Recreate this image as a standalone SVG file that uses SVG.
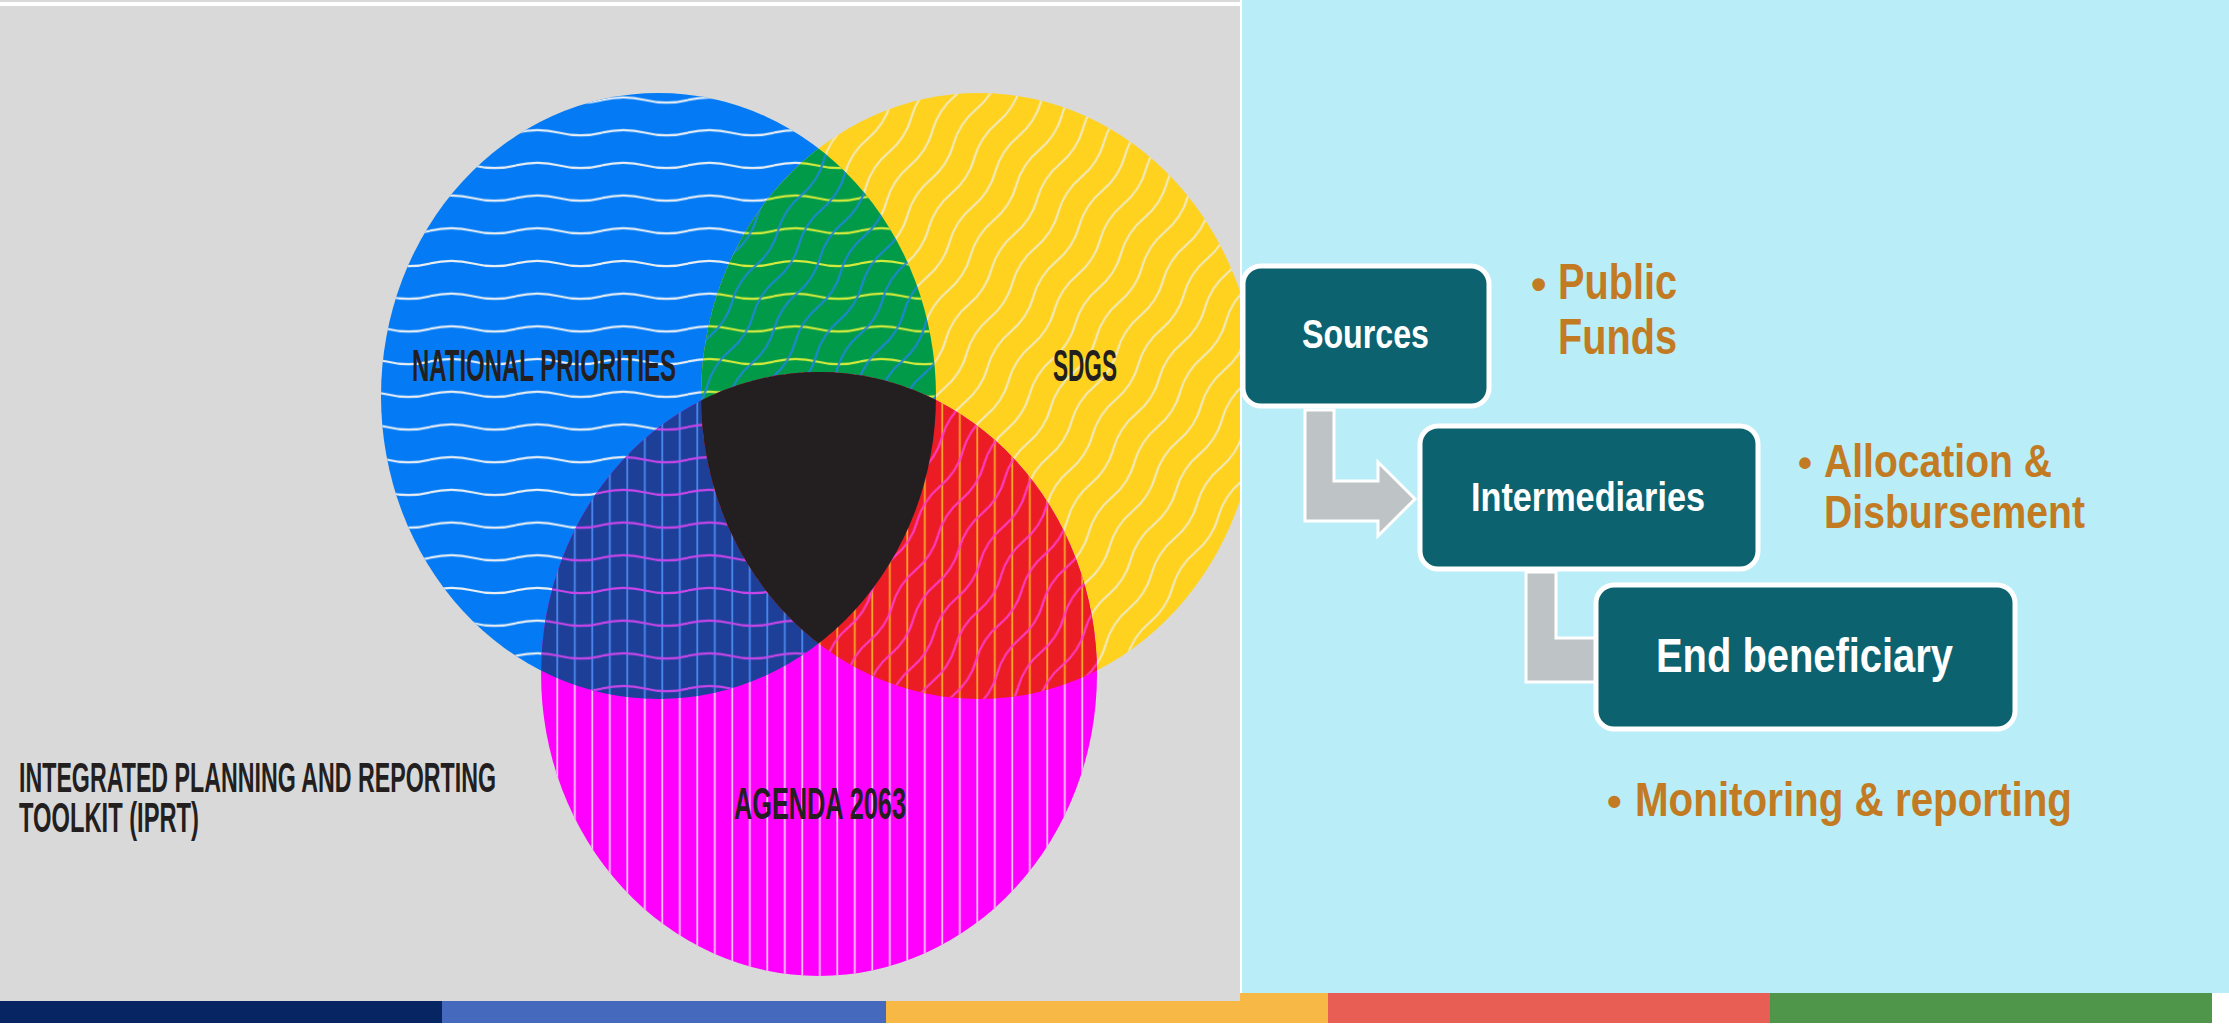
<svg xmlns="http://www.w3.org/2000/svg" width="2229" height="1024" viewBox="0 0 2229 1024">
<style>
.venn-label{font-family:"Liberation Sans Narrow","Liberation Sans",Arial,sans-serif;font-weight:bold;fill:#231f20;}
.box{fill:#0d6270;stroke:#ffffff;stroke-width:5;}
.box-label{font-family:"Liberation Sans Narrow","Liberation Sans",Arial,sans-serif;font-weight:bold;fill:#ffffff;}
.note{font-family:"Liberation Sans Narrow","Liberation Sans",Arial,sans-serif;font-weight:bold;fill:#c27b22;}
.conn{fill:#bec4c5;stroke:#ffffff;stroke-width:3;stroke-linejoin:miter;}
</style>
<defs>
  <ellipse id="eB" cx="658.5" cy="396" rx="277.5" ry="303"/>
  <ellipse id="eY" cx="979" cy="396" rx="278" ry="303"/>
  <ellipse id="eM" cx="819" cy="674" rx="278" ry="302"/>
  <clipPath id="clipPanel"><rect x="0" y="6" width="1240" height="995"/></clipPath>
  <clipPath id="clipB"><use href="#eB"/></clipPath>
  <clipPath id="clipY"><use href="#eY"/></clipPath>
  <clipPath id="clipM"><use href="#eM"/></clipPath>
  <!-- horizontal waves -->
  <pattern id="hwW" patternUnits="userSpaceOnUse" x="0" y="83.65" width="86" height="32.7">
    <path d="M0 16.35 Q21.5 11 43 16.35 T86 16.35" fill="none" stroke="#e8eef4" stroke-width="2.2"/>
  </pattern>
  <pattern id="hwYel" patternUnits="userSpaceOnUse" x="0" y="83.65" width="86" height="32.7">
    <path d="M0 16.35 Q21.5 11 43 16.35 T86 16.35" fill="none" stroke="#d6ea3c" stroke-width="2.2"/>
  </pattern>
  <pattern id="hwPink" patternUnits="userSpaceOnUse" x="0" y="83.65" width="86" height="32.7">
    <path d="M0 16.35 Q21.5 11 43 16.35 T86 16.35" fill="none" stroke="#c845ea" stroke-width="2.2"/>
  </pattern>
  <!-- diagonal waves -->
  <pattern id="dwW" patternUnits="userSpaceOnUse" x="0" y="0" width="84" height="25" patternTransform="rotate(-57 979 396)">
    <path d="M0 12.5 Q21 6 42 12.5 T84 12.5" fill="none" stroke="#f1e9bd" stroke-width="2.2"/>
  </pattern>
  <pattern id="dwBlue" patternUnits="userSpaceOnUse" x="0" y="0" width="84" height="25" patternTransform="rotate(-57 979 396)">
    <path d="M0 12.5 Q21 6 42 12.5 T84 12.5" fill="none" stroke="#1f86d6" stroke-width="2.2"/>
  </pattern>
  <pattern id="dwPink" patternUnits="userSpaceOnUse" x="0" y="0" width="84" height="25" patternTransform="rotate(-57 979 396)">
    <path d="M0 12.5 Q21 6 42 12.5 T84 12.5" fill="none" stroke="#ff3cc8" stroke-width="2.2"/>
  </pattern>
  <!-- vertical lines -->
  <pattern id="vlW" patternUnits="userSpaceOnUse" x="0" y="0" width="17.5" height="10">
    <line x1="14.8" y1="0" x2="14.8" y2="10" stroke="#ffc8ff" stroke-width="1.8"/>
  </pattern>
  <pattern id="vlBlue" patternUnits="userSpaceOnUse" x="0" y="0" width="17.5" height="10">
    <line x1="14.8" y1="0" x2="14.8" y2="10" stroke="#4a88ee" stroke-width="1.8"/>
  </pattern>
  <pattern id="vlOr" patternUnits="userSpaceOnUse" x="0" y="0" width="17.5" height="10">
    <line x1="14.8" y1="0" x2="14.8" y2="10" stroke="#f7a829" stroke-width="1.8"/>
  </pattern>
</defs>

<!-- backgrounds -->
<rect x="0" y="0" width="2229" height="1024" fill="#ffffff"/>
<rect x="0" y="0" width="1240" height="1001" fill="#d9d9d9"/>
<rect x="0" y="2" width="1240" height="4" fill="#ffffff"/>
<rect x="1242" y="0" width="987" height="993" fill="#b9edf7"/>
<g id="bottom-bar">
  <rect x="0" y="1001" width="442" height="22" fill="#062562"/>
  <rect x="442" y="993" width="444" height="30" fill="#4569bd"/>
  <rect x="886" y="993" width="442" height="30" fill="#f8b845"/>
  <rect x="1328" y="993" width="442" height="30" fill="#e85e55"/>
  <rect x="1770" y="993" width="442" height="30" fill="#4f964a"/>
</g>
<rect x="442" y="993" width="798" height="8" fill="#d9d9d9"/>

<!-- Venn diagram -->
<g id="venn" clip-path="url(#clipPanel)">
  <g id="national-priorities">
    <use href="#eB" fill="#047bf5"/>
    <use href="#eB" fill="url(#hwW)"/>
  </g>
  <g id="sdgs">
    <use href="#eY" fill="#fed21f"/>
    <use href="#eY" fill="url(#dwW)"/>
  </g>
  <g id="agenda-2063">
    <use href="#eM" fill="#ff00ff"/>
    <use href="#eM" fill="url(#vlW)"/>
  </g>
  <g id="np-sdgs" clip-path="url(#clipB)">
    <use href="#eY" fill="#009a48"/>
    <use href="#eY" fill="url(#hwYel)"/>
    <use href="#eY" fill="url(#dwBlue)"/>
  </g>
  <g id="np-agenda" clip-path="url(#clipB)">
    <use href="#eM" fill="#1e3f98"/>
    <use href="#eM" fill="url(#vlBlue)"/>
    <use href="#eM" fill="url(#hwPink)"/>
  </g>
  <g id="sdgs-agenda" clip-path="url(#clipY)">
    <use href="#eM" fill="#ec1c24"/>
    <use href="#eM" fill="url(#vlOr)"/>
    <use href="#eM" fill="url(#dwPink)"/>
  </g>
  <g id="all-three" clip-path="url(#clipB)">
    <g clip-path="url(#clipY)">
      <use href="#eM" fill="#231f20"/>
    </g>
  </g>
  <text class="venn-label" x="412" y="381" font-size="44" textLength="264" lengthAdjust="spacingAndGlyphs">NATIONAL PRIORITIES</text>
  <text class="venn-label" x="1053" y="381" font-size="44" textLength="64" lengthAdjust="spacingAndGlyphs">SDGS</text>
  <text class="venn-label" x="734" y="819" font-size="44" textLength="172" lengthAdjust="spacingAndGlyphs">AGENDA 2063</text>
</g>
<g id="title">
  <text class="venn-label" x="19" y="792" font-size="42" textLength="477" lengthAdjust="spacingAndGlyphs">INTEGRATED PLANNING AND REPORTING</text>
  <text class="venn-label" x="19" y="832" font-size="42" textLength="180" lengthAdjust="spacingAndGlyphs">TOOLKIT (IPRT)</text>
</g>

<!-- connectors -->
<g id="connectors">
  <path class="conn" d="M1305 410 L1305 521 L1378 521 L1378 536 L1415 499 L1378 462 L1378 481 L1334 481 L1334 410 Z"/>
  <path class="conn" d="M1526 572 L1526 682 L1596 682 L1596 638 L1556 638 L1556 572 Z"/>
</g>

<!-- nodes -->
<g id="node-sources">
  <rect class="box" x="1243" y="266" width="246" height="140" rx="18"/>
  <text class="box-label" x="1302" y="348" font-size="40" textLength="127" lengthAdjust="spacingAndGlyphs">Sources</text>
</g>
<g id="node-intermediaries">
  <rect class="box" x="1420" y="426" width="338" height="143" rx="18"/>
  <text class="box-label" x="1471" y="511" font-size="41" textLength="234" lengthAdjust="spacingAndGlyphs">Intermediaries</text>
</g>
<g id="node-end-beneficiary">
  <rect class="box" x="1596" y="585" width="419" height="144" rx="18"/>
  <text class="box-label" x="1656" y="672" font-size="48" textLength="297" lengthAdjust="spacingAndGlyphs">End beneficiary</text>
</g>

<!-- notes -->
<g id="note-public-funds">
  <text class="note" font-size="50"><tspan x="1531" y="299" font-size="44">•</tspan><tspan x="1558" y="299" textLength="119" lengthAdjust="spacingAndGlyphs">Public</tspan></text>
  <text class="note" font-size="50" x="1558" y="354" textLength="119" lengthAdjust="spacingAndGlyphs">Funds</text>
</g>
<g id="note-allocation">
  <text class="note" font-size="46"><tspan x="1798" y="477" font-size="40">•</tspan><tspan x="1824" y="477" textLength="228" lengthAdjust="spacingAndGlyphs">Allocation &amp;</tspan></text>
  <text class="note" font-size="46" x="1824" y="528" textLength="261" lengthAdjust="spacingAndGlyphs">Disbursement</text>
</g>
<g id="note-monitoring">
  <text class="note" font-size="48"><tspan x="1607" y="816" font-size="42">•</tspan><tspan x="1635" y="816" textLength="437" lengthAdjust="spacingAndGlyphs">Monitoring &amp; reporting</tspan></text>
</g>
</svg>
